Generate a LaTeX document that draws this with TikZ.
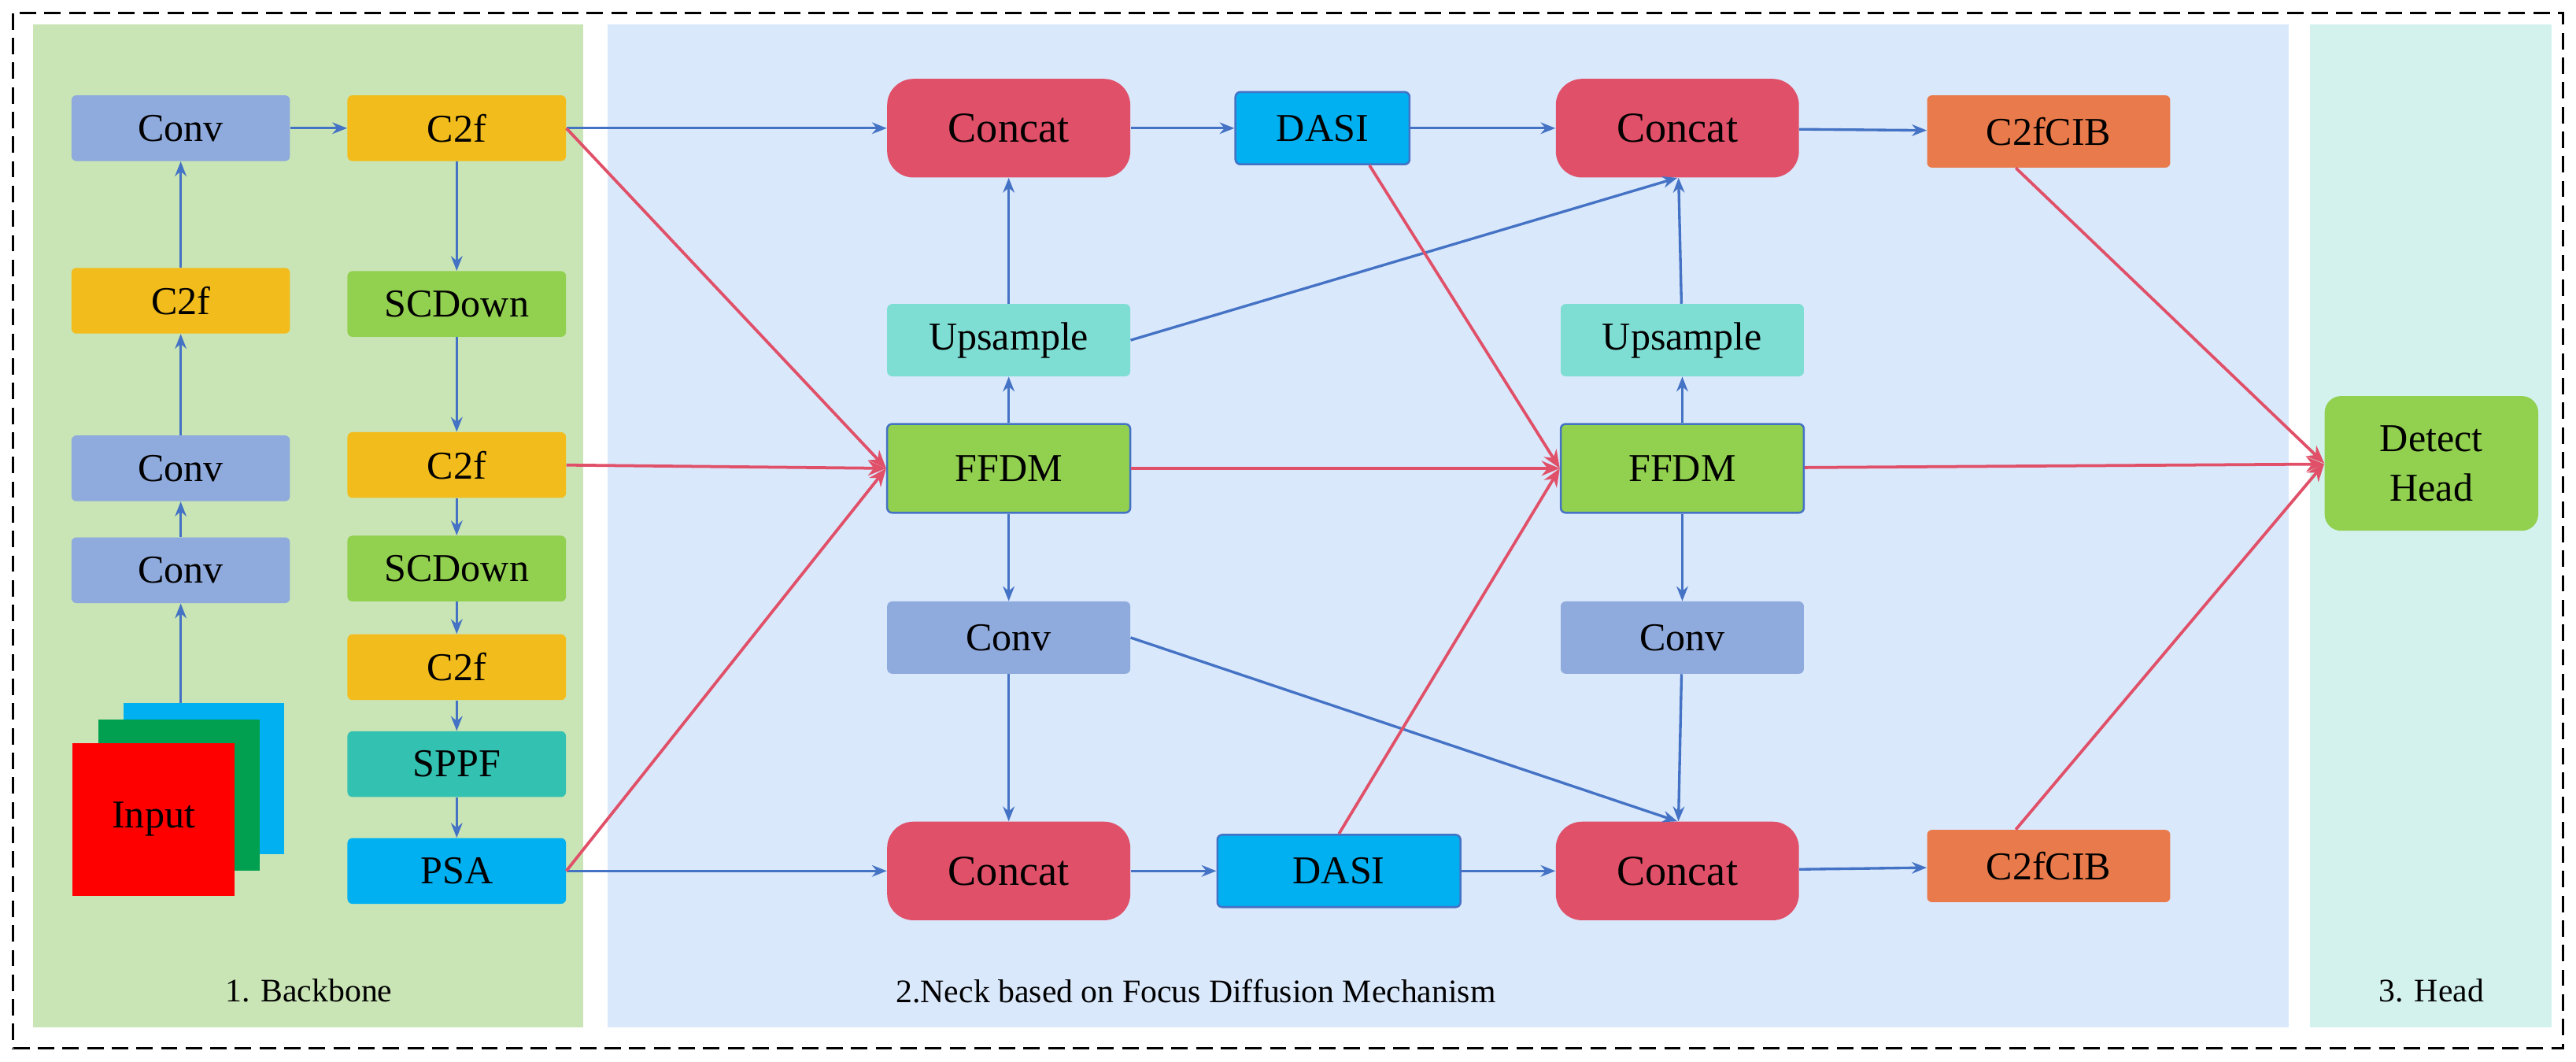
\documentclass[tikz,border=0pt]{standalone}
\usepackage{fontspec}
\setmainfont{Liberation Serif}
\usetikzlibrary{arrows.meta}
\definecolor{cblue}{HTML}{8FAADC}
\definecolor{cyel}{HTML}{F2BC1C}
\definecolor{cgreen}{HTML}{92D050}
\definecolor{cteal}{HTML}{33C1B1}
\definecolor{ccyan}{HTML}{00B0F0}
\definecolor{cred}{HTML}{E05068}
\definecolor{corange}{HTML}{E97A4B}
\definecolor{cups}{HTML}{7FDED4}
\definecolor{lblue}{HTML}{4472C4}
\definecolor{pgreen}{HTML}{C9E5B5}
\definecolor{pblue}{HTML}{DAE8FC}
\definecolor{pcyan}{HTML}{D3F2EE}
\definecolor{sgreen}{HTML}{00A050}
\begin{document}
\begin{tikzpicture}[x=1pt,y=-1pt,
 box/.style={rounded corners=3pt,minimum width=133pt,minimum height=40pt,inner sep=0pt,font=\fontsize{24}{28}\selectfont},
 nbox/.style={box,minimum width=148pt,minimum height=44pt},
 cat/.style={nbox,fill=cred,rounded corners=16pt,minimum height=60pt,font=\fontsize{26}{30}\selectfont},
 ba/.style={draw=lblue,line width=1.6pt,-{Stealth[length=9pt,width=7pt]}},
 ra/.style={draw=cred,line width=1.8pt,-{Stealth[length=11pt,width=9pt]}},
 lab/.style={font=\fontsize{20}{24}\selectfont}]
\useasboundingbox (0,0) rectangle (1568,646);
\fill[white] (0,0) rectangle (1568,646);
\draw[line width=1.6pt,dash pattern=on 10pt off 5pt] (8,8) rectangle (1560,638);
\fill[pgreen] (20,15) rectangle (355,625);
\fill[pblue] (370,15) rectangle (1393,625);
\fill[pcyan] (1406,15) rectangle (1553,625);
\node[lab] (l1) at (188,603) {1. Backbone};
\node[lab] (l2) at (728,603) {2.Neck based on Focus Diffusion Mechanism};
\node[lab] (l3) at (1480,603) {3. Head};
% backbone
\node[box,fill=cblue] (b1) at (110,78) {Conv};
\node[box,fill=cyel] (b2) at (110,183) {C2f};
\node[box,fill=cblue] (b3) at (110,285) {Conv};
\node[box,fill=cblue] (b4) at (110,347) {Conv};
\fill[ccyan] (75,428) rectangle (173,520);
\fill[sgreen] (60,438) rectangle (158,530);
\node[fill=red,minimum width=99pt,minimum height=93pt,inner sep=0pt,font=\fontsize{24}{28}\selectfont] (in) at (93.5,498.5) {Input};
\coordinate (inT) at (110,428);
\node[box,fill=cyel] (r1) at (278,78) {C2f};
\node[box,fill=cgreen] (r2) at (278,185) {SCDown};
\node[box,fill=cyel] (r3) at (278,283) {C2f};
\node[box,fill=cgreen] (r4) at (278,346) {SCDown};
\node[box,fill=cyel] (r5) at (278,406) {C2f};
\node[box,fill=cteal] (r6) at (278,465) {SPPF};
\node[box,fill=ccyan] (r7) at (278,530) {PSA};
% neck
\node[cat] (c1) at (614,78) {Concat};
\node[nbox,minimum width=106pt,fill=ccyan,draw=lblue,line width=1.2pt] (d1) at (805,78) {DASI};
\node[cat] (c2) at (1021,78) {Concat};
\node[nbox,fill=corange] (o1) at (1247,80) {C2fCIB};
\node[nbox,fill=cups] (u1) at (614,207) {Upsample};
\node[nbox,fill=cgreen,draw=lblue,line width=1.2pt,minimum height=54pt] (f1) at (614,285) {FFDM};
\node[nbox,fill=cblue] (v1) at (614,388) {Conv};
\node[cat] (c3) at (614,530) {Concat};
\node[nbox,fill=ccyan,draw=lblue,line width=1.2pt] (d2) at (815,530) {DASI};
\node[cat] (c4) at (1021,530) {Concat};
\node[nbox,fill=corange] (o2) at (1247,527) {C2fCIB};
\node[nbox,fill=cups] (u2) at (1024,207) {Upsample};
\node[nbox,fill=cgreen,draw=lblue,line width=1.2pt,minimum height=54pt] (f2) at (1024,285) {FFDM};
\node[nbox,fill=cblue] (v2) at (1024,388) {Conv};
\node[box,fill=cgreen,minimum width=130pt,minimum height=82pt,rounded corners=10pt,align=center,font=\fontsize{24}{30}\selectfont] (det) at (1480,282) {Detect\\Head};
% blue arrows
\draw[ba] (b1) -- (r1);
\draw[ba] (b2) -- (b1);
\draw[ba] (b3) -- (b2);
\draw[ba] (b4) -- (b3);
\draw[ba] (inT) -- (b4);
\draw[ba] (r1) -- (r2);
\draw[ba] (r2) -- (r3);
\draw[ba] (r3) -- (r4);
\draw[ba] (r4) -- (r5);
\draw[ba] (r5) -- (r6);
\draw[ba] (r6) -- (r7);
\draw[ba] (r1) -- (c1);
\draw[ba] (c1) -- (d1);
\draw[ba] (d1) -- (c2);
\draw[ba] (c2) -- (o1);
\draw[ba] (u1) -- (c1);
\draw[ba] (f1) -- (u1);
\draw[ba] (f1) -- (v1);
\draw[ba] (v1) -- (c3);
\draw[ba] (u1.east) -- (c2.south);
\draw[ba] (u2) -- (c2);
\draw[ba] (f2) -- (u2);
\draw[ba] (f2) -- (v2);
\draw[ba] (v2) -- (c4);
\draw[ba] (v1.east) -- (c4.north);
\draw[ba] (r7) -- (c3);
\draw[ba] (c3) -- (d2);
\draw[ba] (d2) -- (c4);
\draw[ba] (c4) -- (o2);
% red arrows
\draw[ra] (r1.east) -- (f1.west);
\draw[ra] (r3.east) -- (f1.west);
\draw[ra] (r7.east) -- (f1.west);
\draw[ra] ([xshift=-25pt]d1.south east) -- (f2.west);
\draw[ra] (f1) -- (f2);
\draw[ra] (d2.north) -- (f2.west);
\draw[ra] ([xshift=-20pt]o1.south) -- (det.west);
\draw[ra] (f2) -- (det);
\draw[ra] ([xshift=-20pt]o2.north) -- (det.west);
\end{tikzpicture}
\end{document}
